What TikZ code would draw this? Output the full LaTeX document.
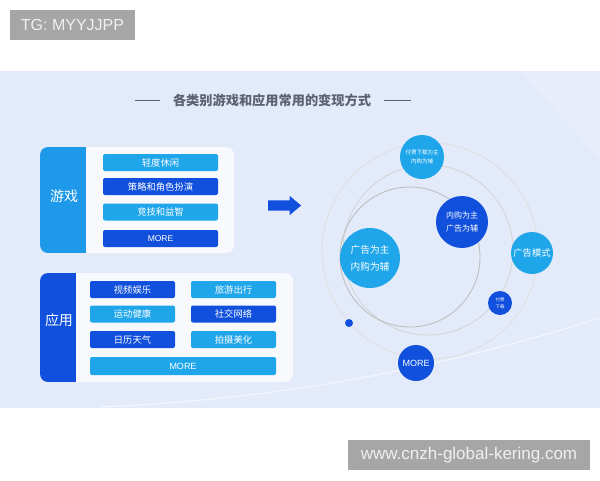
\documentclass[tikz,border=0pt]{standalone}
\usepackage{fontspec}
\setmainfont{Liberation Sans}
\newfontfamily\cjk{Noto Sans CJK SC}
\usetikzlibrary{shapes.arrows}
\definecolor{bgpanel}{HTML}{E3EAFA}
\definecolor{lightb}{HTML}{1FA6EA}
\definecolor{darkb}{HTML}{1050DC}
\definecolor{tabb}{HTML}{1E98E8}
\definecolor{tgg}{HTML}{A6A6A6}
\definecolor{titleg}{HTML}{5C6272}

\begin{document}
\begin{tikzpicture}[x=1pt, y=-1pt,
	tg/.style = {rectangle, fill=tgg, text=white!94!black, inner sep=0pt, font=\fontsize{16}{18}\selectfont},
	li/.style = {rectangle, rounded corners=2pt, fill=lightb, text=white, inner sep=0pt, minimum height=17, font=\cjk\fontsize{9.3}{10}\selectfont},
	da/.style = {li, fill=darkb},
	tab/.style = {text=white, font=\cjk\fontsize{14}{15}\selectfont},
	lb/.style = {circle, fill=lightb, text=white, inner sep=0pt, align=center},
	db/.style = {lb, fill=darkb},
	ring/.style = {draw=gray!35, line width=0.9pt}
	]
	\useasboundingbox (0, 0) rectangle (600, 480);
	
	%Background
	\fill[white]	(0, 0) rectangle (600, 480);
	\fill[bgpanel]	(0, 71) rectangle (600, 408);
	\fill[white, opacity=0.15]	(520, 71) -- (600, 71) -- (600, 160) -- cycle;
	\draw[white, line width=1.2pt, opacity=0.55]	(100, 407) .. controls (260, 400) and (420, 375) .. (600, 318);
	\node[tg, minimum width=125, minimum height=30]	(tag)	at	(72.5, 25)	{TG: MYYJJPP};
	\node[tg, minimum width=242, minimum height=30, font=\fontsize{17}{18}\selectfont]	(site)	at	(469, 455)	{www.cnzh-global-kering.com};
	
	%Title
	\node[text=titleg, font=\cjk\bfseries\fontsize{13.2}{14}\selectfont]	(title)	at	(272, 100)	{各类别游戏和应用常用的变现方式};
	\draw[titleg, line width=0.8pt]	([xshift=-9]title.west) -- ++(-25, 0);
	\draw[titleg, line width=0.8pt]	([xshift=9]title.east) -- ++(27, 0);
	
	%Panels
	\fill[white, opacity=0.75, rounded corners=8pt]	(40, 147) rectangle (234, 253);
	\begin{scope}
		\clip[rounded corners=8pt]	(40, 147) rectangle (234, 253);
		\fill[tabb]	(40, 147) rectangle (86, 253);
	\end{scope}
	\fill[white, opacity=0.75, rounded corners=8pt]	(40, 273) rectangle (293, 382);
	\begin{scope}
		\clip[rounded corners=8pt]	(40, 273) rectangle (293, 382);
		\fill[darkb]	(40, 273) rectangle (76, 382);
	\end{scope}
	
	%Nodes
	\node[tab]	(game)	at	(64, 196)	{游戏};
	\node[li, minimum width=115]	(g1)	at	(160.5, 162.5)	{轻度休闲};
	\node[da, minimum width=115]	(g2)	at	(160.5, 186.5)	{策略和角色扮演};
	\node[li, minimum width=115]	(g3)	at	(160.5, 212)	{竞技和益智};
	\node[da, minimum width=115, font=\fontsize{8.5}{9}\selectfont]	(g4)	at	(160.5, 238.5)	{MORE};
	
	\node[tab]	(app)	at	(59, 320)	{应用};
	\node[da, minimum width=85]	(a1)	at	(132.5, 289.5)	{视频娱乐};
	\node[li, minimum width=85]	(a2)	at	(233.5, 289.5)	{旅游出行};
	\node[li, minimum width=85]	(a3)	at	(132.5, 314)	{运动健康};
	\node[da, minimum width=85]	(a4)	at	(233.5, 314)	{社交网络};
	\node[da, minimum width=85]	(a5)	at	(132.5, 339.5)	{日历天气};
	\node[li, minimum width=85]	(a6)	at	(233.5, 339.5)	{拍摄美化};
	\node[li, minimum width=186, minimum height=18, font=\fontsize{9}{10}\selectfont]	(a7)	at	(183, 366)	{MORE};
	
	\node[single arrow, fill=darkb, inner xsep=0pt, inner ysep=5pt, minimum height=33, single arrow head extend=4.5pt, single arrow tip angle=80]	(go)	at	(281.5, 205.5)	{};
	
	%Rings
	\coordinate	(c1)	at	(430, 251);
	\coordinate	(c2)	at	(428, 250);
	\coordinate	(c3)	at	(410, 257);
	\draw[ring, draw=gray!25]	(c1) circle (108);
	\draw[ring, draw=gray!32]	(c2) circle (85);
	\draw[ring, draw=gray!50]	(c3) circle (70);
	
	%Bubbles
	\node[lb, minimum size=44, font=\cjk\fontsize{5.5}{9}\selectfont]	(pay)	at	(422, 157)	{付费下载为主\\内购为辅};
	\node[db, minimum size=52, font=\cjk\fontsize{8}{13}\selectfont]	(iap)	at	(462, 222)	{内购为主\\广告为辅};
	\node[lb, minimum size=60, font=\cjk\fontsize{9.7}{17}\selectfont]	(ads)	at	(370, 258)	{广告为主\\内购为辅};
	\node[lb, minimum size=42, font=\cjk\fontsize{9.3}{10}\selectfont]	(mode)	at	(532, 253)	{广告模式};
	\node[db, minimum size=24, font=\cjk\fontsize{4.5}{7}\selectfont]	(paydl)	at	(500, 303)	{付费\\下载};
	\node[db, minimum size=8]	(dot)	at	(349, 323)	{};
	\node[db, minimum size=36, font=\fontsize{9}{10}\selectfont]	(more)	at	(416, 363)	{MORE};
\end{tikzpicture}
\end{document}
